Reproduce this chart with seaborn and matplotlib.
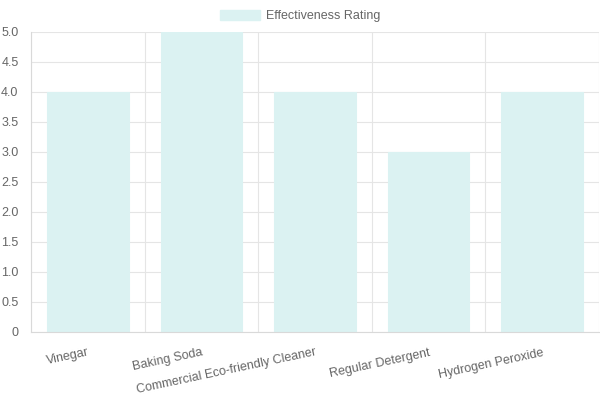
import matplotlib
matplotlib.use("Agg")
import matplotlib.pyplot as plt
import seaborn as sns
import pandas as pd
from matplotlib.patches import Patch
from matplotlib.ticker import FixedLocator, MultipleLocator, FuncFormatter

categories = ["Vinegar", "Baking Soda", "Commercial Eco-friendly Cleaner",
              "Regular Detergent", "Hydrogen Peroxide"]
ratings = [4, 5, 4, 3, 4]
series_name = "Effectiveness Rating"

sns.set_style("white")
plt.rcParams['font.family'] = ['Liberation Sans', 'DejaVu Sans']

df = pd.DataFrame({"Method": categories, "Rating": ratings})

fig = plt.figure(figsize=(6, 4), dpi=100)
ax = fig.add_axes([31/600, 1-332/400, 568/600, 300/400])

bar_color = "#dbf2f2"
sns.barplot(data=df, x="Method", y="Rating", ax=ax, color=bar_color,
            width=0.72, saturation=1, edgecolor=bar_color, linewidth=0.8)

grid_c = "#e5e5e5"
text_c = "#666666"
ax.set_ylim(0, 5)
ax.set_xlim(-0.5, len(categories) - 0.5)
ax.yaxis.set_major_locator(MultipleLocator(0.5))
ax.yaxis.set_major_formatter(FuncFormatter(lambda v, p: "0" if v == 0 else f"{v:.1f}"))
ax.xaxis.set_minor_locator(FixedLocator([i - 0.5 for i in range(len(categories) + 1)]))

ax.grid(True, axis="y", which="major", color=grid_c, linewidth=0.8)
ax.grid(True, axis="x", which="minor", color=grid_c, linewidth=0.8)
ax.set_axisbelow(True)

for s in ["top", "right"]:
    ax.spines[s].set_visible(False)
for s in ["left", "bottom"]:
    ax.spines[s].set_color("#d9d9d9")
    ax.spines[s].set_linewidth(0.8)

ax.tick_params(axis="y", which="major", length=6, width=0.8, color=grid_c,
               labelsize=9, labelcolor=text_c, pad=3)
ax.tick_params(axis="x", which="major", length=0, labelsize=9, labelcolor=text_c, pad=10.5)
ax.tick_params(axis="x", which="minor", length=6, width=0.8, color=grid_c)

ax.set_xticks(range(len(categories)))
ax.set_xticklabels(categories, rotation=12, ha="right", va="top", rotation_mode="anchor")

ax.set_xlabel("")
ax.set_ylabel("")

handle = Patch(facecolor=bar_color, edgecolor=bar_color, label=series_name)
fig.legend(handles=[handle], loc="upper center", bbox_to_anchor=(0.5, 1.0),
           frameon=False, fontsize=9, labelcolor=text_c,
           handlelength=3.2, handleheight=0.9, handletextpad=0.5, borderaxespad=0.4)

fig.savefig("out.png", dpi=100)
